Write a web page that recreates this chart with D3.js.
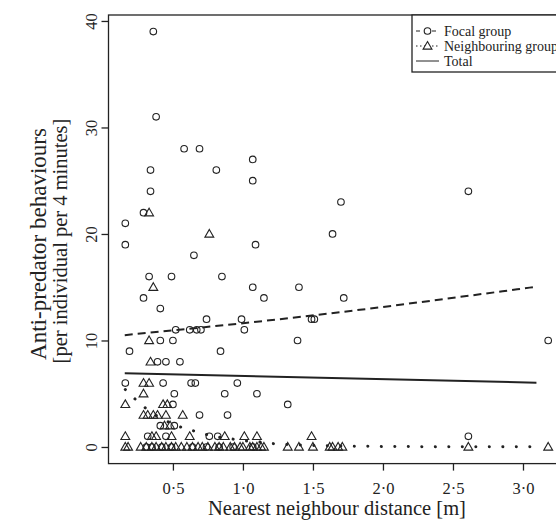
<!DOCTYPE html>
<html>
<head>
<meta charset="utf-8">
<script src="https://cdn.jsdelivr.net/npm/d3@7"></script>
<style>
  body { margin: 0; background: white; }
  text { font-family: "Liberation Serif", "Times New Roman", serif; fill: #222; }
</style>
</head>
<body>
<div id="vis1"></div>
<script>
// values
let focalX = [0.36, 0.38, 0.58, 0.69, 1.07, 0.34, 0.81, 1.07, 0.34, 2.61, 1.70, 0.29, 0.16, 1.64,
  0.16, 1.09, 0.65, 0.33, 0.49, 0.85, 1.07, 1.40, 0.29, 1.15, 1.72, 0.41, 0.74, 0.99, 1.49, 1.51,
  0.52, 0.62, 0.67, 0.70, 1.01, 0.41, 0.50, 1.39, 3.18, 0.19, 0.84, 0.39, 0.45, 0.55,
  0.16, 0.43, 0.63, 0.66, 0.96, 0.51, 0.87, 1.10, 0.50, 1.32, 0.69, 0.89, 0.41, 0.51,
  0.32, 0.45, 0.76, 0.82, 2.61, 0.31, 0.35, 0.42, 0.49, 0.64, 0.74, 0.83, 0.93, 1.07];
let focalY = [39, 31, 28, 28, 27, 26, 26, 25, 24, 24, 23, 22, 21, 20,
  19, 19, 18, 16, 16, 16, 15, 15, 14, 14, 14, 13, 12, 12, 12, 12,
  11, 11, 11, 11, 11, 10, 10, 10, 10, 9, 9, 8, 8, 8,
  6, 6, 6, 6, 6, 5, 5, 5, 4, 4, 3, 3, 2, 2,
  1, 1, 1, 1, 1, 0, 0, 0, 0, 0, 0, 0, 0, 0];

let neighX = [0.33, 0.76, 0.36, 0.33, 0.34, 0.29, 0.33, 0.29, 0.16, 0.43, 0.46,
  0.29, 0.32, 0.36, 0.39, 0.45, 0.57, 0.44, 0.48,
  0.16, 0.35, 0.38, 0.49, 0.62, 0.87, 1.01, 1.10, 1.49,
  0.16, 0.18, 0.27, 0.31, 0.35, 0.38, 0.42, 0.45, 0.49, 0.52, 0.56, 0.60, 0.64, 0.68,
  0.71, 0.75, 0.80, 0.83, 0.86, 0.91, 0.94, 0.98, 1.00, 1.05, 1.07, 1.10, 1.13, 1.15,
  1.32, 1.40, 1.50, 1.62, 1.64, 1.68, 1.71, 2.61, 3.18];
let neighY = [22, 20, 15, 10, 8, 6, 6, 5, 4, 4, 4,
  3, 3, 3, 3, 3, 3, 2, 2,
  1, 1, 1, 1, 1, 1, 1, 1, 1,
  0, 0, 0, 0, 0, 0, 0, 0, 0, 0, 0, 0, 0, 0,
  0, 0, 0, 0, 0, 0, 0, 0, 0, 0, 0, 0, 0, 0,
  0, 0, 0, 0, 0, 0, 0, 0, 0];

// fitted lines, read as points
let focalFitX = [0.156, 1.40, 3.096];
let focalFitY = [10.5, 12.2, 15.05];
let neighFitX = [0.16, 0.23, 0.30, 0.56, 0.65, 0.76, 0.94, 1.03, 1.14, 1.23, 1.50, 2.00, 3.10];
let neighFitY = [5.4, 4.5, 3.7, 1.85, 1.5, 1.1, 0.72, 0.56, 0.44, 0.30, 0.15, 0.05, 0.01];
let totalFitX = [0.156, 3.096];
let totalFitY = [6.92, 6.04];

let xTicks = [0.5, 1.0, 1.5, 2.0, 2.5, 3.0];
let yTicks = [0, 10, 20, 30, 40];
let legendLabels = ["Focal group", "Neighbouring group", "Total"];

let W = 556, H = 523;
let plot = { left: 108.5, right: 565, top: 15, bottom: 463.6 };
let ink = "#222";
let serif = '"Liberation Serif", "Times New Roman", serif';

let svg = d3.select('#vis1')
  .append('svg')
  .attr("width", W)
  .attr("height", H)
  .style('background-color', 'white');

let x = d3.scaleLinear().domain([0.04, 3.30]).range([plot.left, plot.right]);
let y = d3.scaleLinear().domain([-1.56, 40.56]).range([plot.bottom, plot.top]);

// axes
let xAx = svg.append("g")
  .attr("transform", `translate(0, ${plot.bottom})`)
  .call(d3.axisBottom(x).tickValues(xTicks).tickSize(7)
    .tickFormat(d => d3.format(".1f")(d).replace(".", "\u00b7")))
  .attr("font-family", serif);
xAx.select(".domain").remove();
xAx.selectAll("line").attr("stroke", ink).attr("stroke-width", 1.3);
xAx.selectAll("text")
  .attr("y", 30).attr("dy", 0)
  .style("font-family", serif)
  .style("font-size", "16.5px").attr("fill", ink);

let yAx = svg.append("g")
  .attr("transform", `translate(${plot.left}, 0)`)
  .call(d3.axisLeft(y).tickValues(yTicks).tickSize(7))
  .attr("font-family", serif);
yAx.select(".domain").remove();
yAx.selectAll("line").attr("stroke", ink).attr("stroke-width", 1.3);
yAx.selectAll("text")
  .attr("transform", "rotate(-90)")
  .attr("x", 0).attr("y", -11.5).attr("dy", 0)
  .attr("text-anchor", "middle")
  .style("font-family", serif)
  .style("font-size", "16.5px").attr("fill", ink);

// axis titles
svg.append("text")
  .attr("x", 337).attr("y", 515)
  .attr("text-anchor", "middle")
  .style("font-size", "20.5px")
  .text("Nearest neighbour distance [m]");

svg.append("text")
  .attr("transform", `translate(46, 244) rotate(-90)`)
  .attr("text-anchor", "middle")
  .style("font-size", "23px")
  .text("Anti-predator behaviours");

svg.append("text")
  .attr("transform", `translate(67, 241) rotate(-90)`)
  .attr("text-anchor", "middle")
  .style("font-size", "20.5px")
  .text("[per individual per 4 minutes]");

// fitted lines
let line = d3.line().x(d => x(d[0])).y(d => y(d[1])).curve(d3.curveMonotoneX);

svg.append("path")
  .datum(neighFitX.map((v, i) => [v, neighFitY[i]]))
  .attr("d", line)
  .attr("fill", "none")
  .attr("stroke", ink)
  .attr("stroke-width", 3)
  .attr("stroke-linecap", "round")
  .attr("stroke-dasharray", "0.1 13.4");

svg.append("path")
  .datum(focalFitX.map((v, i) => [v, focalFitY[i]]))
  .attr("d", line)
  .attr("fill", "none")
  .attr("stroke", ink)
  .attr("stroke-width", 2)
  .attr("stroke-dasharray", "8 5");

svg.append("path")
  .datum(totalFitX.map((v, i) => [v, totalFitY[i]]))
  .attr("d", line)
  .attr("fill", "none")
  .attr("stroke", ink)
  .attr("stroke-width", 2);

// points
let tri = d3.symbol().type(d3.symbolTriangle).size(34);

svg.append("g")
  .selectAll("circle")
  .data(focalX.map((v, i) => [v, focalY[i]]))
  .join("circle")
  .attr("cx", d => x(d[0]))
  .attr("cy", d => y(d[1]))
  .attr("r", 3.3)
  .attr("fill", "none")
  .attr("stroke", ink)
  .attr("stroke-width", 1.1);

svg.append("g")
  .selectAll("path")
  .data(neighX.map((v, i) => [v, neighY[i]]))
  .join("path")
  .attr("d", tri)
  .attr("transform", d => `translate(${x(d[0])}, ${y(d[1]) + 0.6})`)
  .attr("fill", "none")
  .attr("stroke", ink)
  .attr("stroke-width", 1.1);

// frame
svg.append("rect")
  .attr("x", plot.left).attr("y", plot.top)
  .attr("width", plot.right - plot.left).attr("height", plot.bottom - plot.top)
  .attr("fill", "none")
  .attr("stroke", ink)
  .attr("stroke-width", 1.3);

// legend
let lg = svg.append("g");
lg.append("rect")
  .attr("x", 412).attr("y", plot.top)
  .attr("width", plot.right - 412).attr("height", 57)
  .attr("fill", "white")
  .attr("stroke", ink)
  .attr("stroke-width", 1.3);

let dashes = ["4 4", "1.5 2.5", null];
legendLabels.forEach((lab, i) => {
  let cy = 31 + i * 15;
  let l = lg.append("line")
    .attr("x1", 416).attr("x2", 439).attr("y1", cy).attr("y2", cy)
    .attr("stroke", ink).attr("stroke-width", 1);
  if (dashes[i]) l.attr("stroke-dasharray", dashes[i]);
  if (i === 0) {
    lg.append("circle").attr("cx", 427.5).attr("cy", cy).attr("r", 3.3)
      .attr("fill", "white").attr("stroke", ink).attr("stroke-width", 1.1);
  } else if (i === 1) {
    lg.append("path").attr("d", tri).attr("transform", `translate(427.5, ${cy + 0.6})`)
      .attr("fill", "white").attr("stroke", ink).attr("stroke-width", 1.1);
  }
  lg.append("text")
    .attr("x", 444).attr("y", cy + 4.5)
    .style("font-size", "14px")
    .text(lab);
});
</script>
</body>
</html>
